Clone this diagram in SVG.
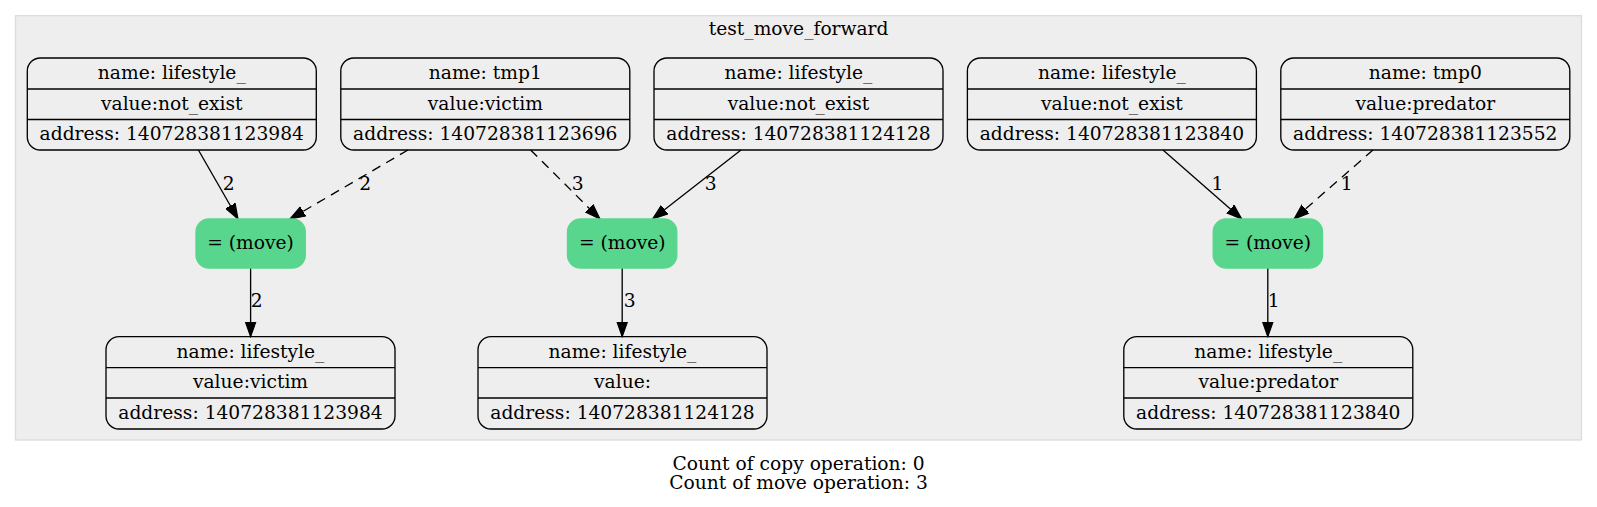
<svg xmlns="http://www.w3.org/2000/svg" width="1597" height="507" viewBox="0 0 1597 507">
<style>
text{font-family:"DejaVu Serif","Liberation Serif",serif;font-size:18.67px;fill:#000;text-anchor:middle}
.rec{fill:none;stroke:#000;stroke-width:1.33}
.div{stroke:#000;stroke-width:1.33}
.mv{fill:#58d68d;stroke:#58d68d;stroke-width:1.33}
.e{fill:none;stroke:#000;stroke-width:1.33}
.d{stroke-dasharray:9.3,6.7}
</style>
<defs>
<marker id="arr" markerUnits="userSpaceOnUse" markerWidth="16" markerHeight="12" refX="13.3" refY="4.7" orient="auto" viewBox="0 0 14 9.4">
<path d="M0,0 L13.3,4.7 L0,9.4 Z" fill="#000" stroke="#000" stroke-width="1"/>
</marker>
</defs>
<rect width="1597" height="507" fill="#fff"/>
<g id="cluster">
<rect x="15.5" y="15.7" width="1566" height="424.3" fill="#eeeeee" stroke="#dddddd" stroke-width="1.33"/>
<text x="798.6" y="35">test_move_forward</text>
</g>
<g id="connectors">
<line class="e" x1="198.4" y1="150" x2="238" y2="219" marker-end="url(#arr)"/>
<text x="228.6" y="189.5">2</text>
<line class="e d" x1="408" y1="150" x2="290" y2="219" marker-end="url(#arr)"/>
<text x="365.3" y="189.5">2</text>
<line class="e d" x1="530.6" y1="150" x2="600" y2="219" marker-end="url(#arr)"/>
<text x="577.6" y="189.5">3</text>
<line class="e" x1="741" y1="150" x2="652.6" y2="219" marker-end="url(#arr)"/>
<text x="710.7" y="189.5">3</text>
<line class="e" x1="1163" y1="150" x2="1241.8" y2="219" marker-end="url(#arr)"/>
<text x="1217.4" y="189.5">1</text>
<line class="e d" x1="1373" y1="150" x2="1294" y2="219" marker-end="url(#arr)"/>
<text x="1346.7" y="189.5">1</text>
<line class="e" x1="250.6" y1="268" x2="250.6" y2="336.7" marker-end="url(#arr)"/>
<text x="256.6" y="306.5">2</text>
<line class="e" x1="622.2" y1="268" x2="622.2" y2="336.7" marker-end="url(#arr)"/>
<text x="629.6" y="306.5">3</text>
<line class="e" x1="1267.8" y1="268" x2="1267.8" y2="336.7" marker-end="url(#arr)"/>
<text x="1273.8" y="306.5">1</text>
</g>
<g id="nodeA">
<rect class="rec" x="27.3" y="58" width="289" height="92" rx="13"/>
<line class="div" x1="27.3" y1="89" x2="316.3" y2="89"/><line class="div" x1="27.3" y1="119.5" x2="316.3" y2="119.5"/>
<text x="171.8" y="79">name: lifestyle_</text><text x="171.8" y="109.5">value:not_exist</text><text x="171.8" y="140">address: 140728381123984</text>
</g>
<g id="nodeB">
<rect class="rec" x="340.8" y="58" width="289" height="92" rx="13"/>
<line class="div" x1="340.8" y1="89" x2="629.8" y2="89"/><line class="div" x1="340.8" y1="119.5" x2="629.8" y2="119.5"/>
<text x="485.3" y="79">name: tmp1</text><text x="485.3" y="109.5">value:victim</text><text x="485.3" y="140">address: 140728381123696</text>
</g>
<g id="nodeC">
<rect class="rec" x="654" y="58" width="289" height="92" rx="13"/>
<line class="div" x1="654" y1="89" x2="943" y2="89"/><line class="div" x1="654" y1="119.5" x2="943" y2="119.5"/>
<text x="798.5" y="79">name: lifestyle_</text><text x="798.5" y="109.5">value:not_exist</text><text x="798.5" y="140">address: 140728381124128</text>
</g>
<g id="nodeD">
<rect class="rec" x="967.4" y="58" width="289" height="92" rx="13"/>
<line class="div" x1="967.4" y1="89" x2="1256.4" y2="89"/><line class="div" x1="967.4" y1="119.5" x2="1256.4" y2="119.5"/>
<text x="1111.9" y="79">name: lifestyle_</text><text x="1111.9" y="109.5">value:not_exist</text><text x="1111.9" y="140">address: 140728381123840</text>
</g>
<g id="nodeE">
<rect class="rec" x="1280.8" y="58" width="289" height="92" rx="13"/>
<line class="div" x1="1280.8" y1="89" x2="1569.8" y2="89"/><line class="div" x1="1280.8" y1="119.5" x2="1569.8" y2="119.5"/>
<text x="1425.3" y="79">name: tmp0</text><text x="1425.3" y="109.5">value:predator</text><text x="1425.3" y="140">address: 140728381123552</text>
</g>
<g id="move1">
<rect class="mv" x="196" y="219" width="109.3" height="49" rx="13"/>
<text x="250.6" y="248.5">= (move)</text>
</g>
<g id="move2">
<rect class="mv" x="567.5" y="219" width="109.3" height="49" rx="13"/>
<text x="622.2" y="248.5">= (move)</text>
</g>
<g id="move3">
<rect class="mv" x="1213.2" y="219" width="109.3" height="49" rx="13"/>
<text x="1267.8" y="248.5">= (move)</text>
</g>
<g id="nodeF">
<rect class="rec" x="106" y="336.7" width="289" height="92.3" rx="13"/>
<line class="div" x1="106" y1="367.7" x2="395" y2="367.7"/><line class="div" x1="106" y1="398" x2="395" y2="398"/>
<text x="250.5" y="357.7">name: lifestyle_</text><text x="250.5" y="388.3">value:victim</text><text x="250.5" y="418.7">address: 140728381123984</text>
</g>
<g id="nodeG">
<rect class="rec" x="478" y="336.7" width="289" height="92.3" rx="13"/>
<line class="div" x1="478" y1="367.7" x2="767" y2="367.7"/><line class="div" x1="478" y1="398" x2="767" y2="398"/>
<text x="622.5" y="357.7">name: lifestyle_</text><text x="622.5" y="388.3">value:</text><text x="622.5" y="418.7">address: 140728381124128</text>
</g>
<g id="nodeH">
<rect class="rec" x="1123.8" y="336.7" width="289" height="92.3" rx="13"/>
<line class="div" x1="1123.8" y1="367.7" x2="1412.8" y2="367.7"/><line class="div" x1="1123.8" y1="398" x2="1412.8" y2="398"/>
<text x="1268.3" y="357.7">name: lifestyle_</text><text x="1268.3" y="388.3">value:predator</text><text x="1268.3" y="418.7">address: 140728381123840</text>
</g>
<g id="footer">
<text x="798.6" y="470">Count of copy operation: 0</text>
<text x="798.6" y="489">Count of move operation: 3</text>
</g>
</svg>
